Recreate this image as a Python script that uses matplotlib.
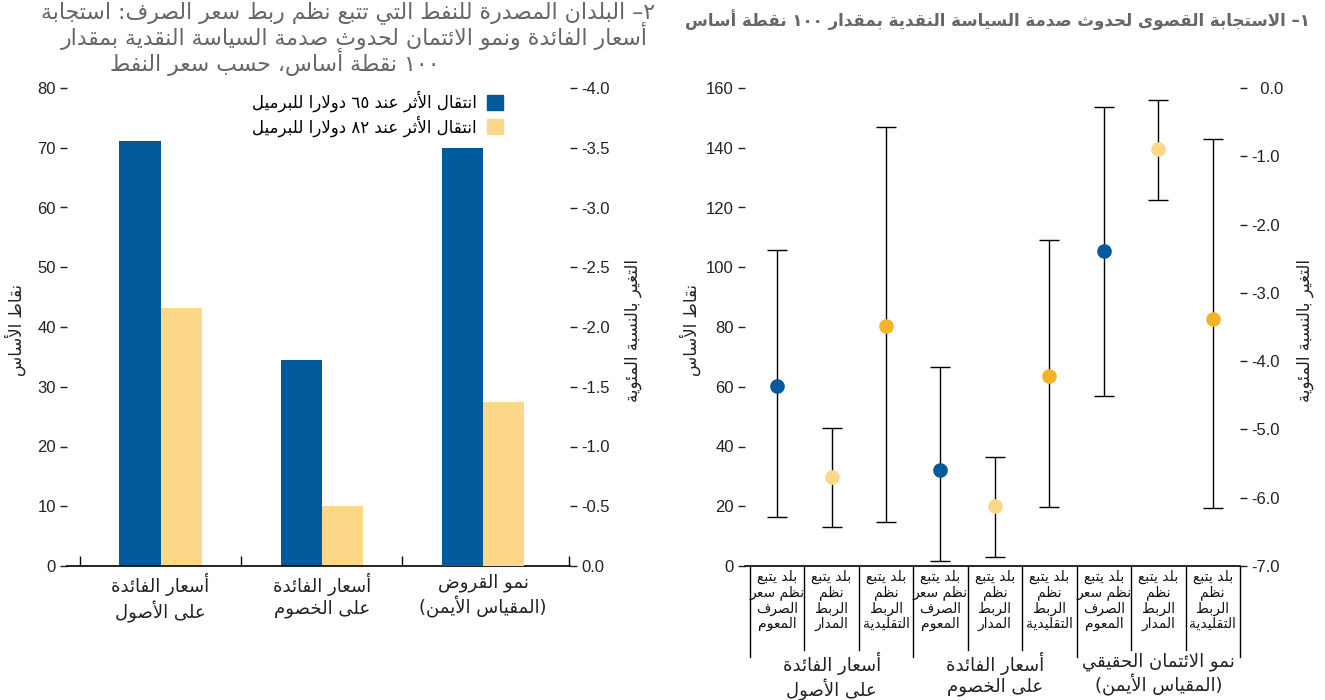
import re
import matplotlib
matplotlib.use('Agg')
import matplotlib.pyplot as plt
from matplotlib.patches import Patch
from matplotlib.ticker import FuncFormatter
from matplotlib.transforms import blended_transform_factory

plt.rcParams['font.family'] = ['Liberation Sans', 'DejaVu Sans']
plt.rcParams['axes.unicode_minus'] = False

# ---- data ----
left_title = ["٢– البلدان المصدرة للنفط التي تتبع نظم ربط سعر الصرف: استجابة",
              "أسعار الفائدة ونمو الائتمان لحدوث صدمة السياسة النقدية بمقدار",
              "١٠٠ نقطة أساس، حسب سعر النفط"]
right_title = "١– الاستجابة القصوى لحدوث صدمة السياسة النقدية بمقدار ١٠٠ نقطة أساس"
legend_labels = ["انتقال الأثر عند ٦٥ دولارا للبرميل", "انتقال الأثر عند ٨٢ دولارا للبرميل"]
bar_groups = ["أسعار الفائدة\nعلى الأصول", "أسعار الفائدة\nعلى الخصوم", "نمو القروض\n(المقياس الأيمن)"]
bps_label = "نقاط الأساس"
pct_label = "التغير بالنسبة المئوية"

# basis points (left scale) for the two rate groups
bars_65 = [71.1, 34.5]
bars_82 = [43.2, 10.0]
# percent (right scale) for loan growth
credit_bar_65 = -3.50
credit_bar_82 = -1.37

regimes = ["بلد يتبع\nنظم سعر\nالصرف\nالمعوم",
           "بلد يتبع\nنظم\nالربط\nالمدار",
           "بلد يتبع\nنظم\nالربط\nالتقليدية"]
resp_groups = ["أسعار الفائدة\nعلى الأصول", "أسعار الفائدة\nعلى الخصوم",
               "نمو الائتمان الحقيقي\n(المقياس الأيمن)"]
# interest rate responses, basis points
rate_mid = [60.3, 29.8, 80.3, 32.1, 20.1, 63.6]
rate_low = [16.4, 13.1, 14.7, 1.7, 3.0, 19.7]
rate_high = [105.8, 46.2, 147.0, 66.6, 36.5, 109.1]
# real credit growth responses, percent
credit_mid = [-2.39, -0.89, -3.38]
credit_low = [-4.51, -1.64, -6.15]
credit_high = [-0.28, -0.18, -0.75]

BLUE = '#005a9c'
LIGHT = '#fdd888'
GOLD = '#f5b32a'
regime_colors = [BLUE, LIGHT, GOLD]

# ---- minimal arabic shaping (presentation forms + visual order) ----
DUAL = {'ئ': 0xFE89, 'ب': 0xFE8F, 'ت': 0xFE95, 'ث': 0xFE99, 'ج': 0xFE9D, 'ح': 0xFEA1,
        'خ': 0xFEA5, 'س': 0xFEB1, 'ش': 0xFEB5, 'ص': 0xFEB9, 'ض': 0xFEBD, 'ط': 0xFEC1,
        'ظ': 0xFEC5, 'ع': 0xFEC9, 'غ': 0xFECD, 'ف': 0xFED1, 'ق': 0xFED5, 'ك': 0xFED9,
        'ل': 0xFEDD, 'م': 0xFEE1, 'ن': 0xFEE5, 'ه': 0xFEE9, 'ي': 0xFEF1}
RIGHT = {'آ': 0xFE81, 'أ': 0xFE83, 'ؤ': 0xFE85, 'إ': 0xFE87, 'ا': 0xFE8D, 'ة': 0xFE93,
         'د': 0xFEA9, 'ذ': 0xFEAB, 'ر': 0xFEAD, 'ز': 0xFEAF, 'و': 0xFEED, 'ى': 0xFEEF}
LAM_ALEF = {'آ': 0xFEF5, 'أ': 0xFEF7, 'إ': 0xFEF9, 'ا': 0xFEFB}
TATWEEL = 'ـ'
MIRROR = str.maketrans('()', ')(')


def joins_next(tok):
    return tok[0] == 'C' and (tok[1] in DUAL or tok[1] == TATWEEL)


def joins_prev(tok):
    return tok[0] == 'LA' or (tok[1] in DUAL or tok[1] in RIGHT or tok[1] == TATWEEL)


def shape(line):
    line = re.sub('[\u064B-\u0652]', '', line)
    toks = []
    i = 0
    while i < len(line):
        c = line[i]
        if c == 'ل' and i + 1 < len(line) and line[i + 1] in LAM_ALEF:
            toks.append(('LA', line[i + 1]))
            i += 2
        else:
            toks.append(('C', c))
            i += 1
    out = []
    for k, tok in enumerate(toks):
        prev = k > 0 and joins_next(toks[k - 1]) and joins_prev(tok)
        nxt = k < len(toks) - 1 and joins_next(tok) and joins_prev(toks[k + 1])
        if tok[0] == 'LA':
            out.append(chr(LAM_ALEF[tok[1]] + (1 if prev else 0)))
        elif tok[1] in DUAL:
            out.append(chr(DUAL[tok[1]] + {(0, 0): 0, (1, 0): 1, (0, 1): 2, (1, 1): 3}[(int(prev), int(nxt))]))
        elif tok[1] in RIGHT:
            out.append(chr(RIGHT[tok[1]] + (1 if prev else 0)))
        elif tok[1] == 'ء':
            out.append(chr(0xFE80))
        else:
            out.append(tok[1])
    return ''.join(out)


def ar(text):
    lines = []
    for line in text.split('\n'):
        runs = re.findall(r'[0-9\u0660-\u0669]+|[^0-9\u0660-\u0669]+', shape(line))
        lines.append(''.join(r if r[0].isdigit() else r[::-1].translate(MIRROR)
                             for r in reversed(runs)))
    return '\n'.join(lines)


AR = 'DejaVu Sans'
W, H = 1325, 700
fig = plt.figure(figsize=(W / 100, H / 100), dpi=100)


def fx(px):
    return px / W


def fy(py):
    return 1 - py / H


def style_axis(a):
    for s in ['top', 'left', 'right']:
        a.spines[s].set_visible(False)
    a.tick_params(axis='y', length=5, width=1, labelsize=12, pad=3, colors='#222222')


# ---- left panel: bars ----
ax = fig.add_axes([fx(67), fy(566), fx(570) - fx(67), fy(88) - fy(566)])
ax2 = ax.twinx()
style_axis(ax)
style_axis(ax2)
ax2.spines['bottom'].set_visible(False)

w = 0.255
ax.bar([0 - w / 2, 1 - w / 2], bars_65, width=w, color=BLUE)
ax.bar([0 + w / 2, 1 + w / 2], bars_82, width=w, color=LIGHT)
ax2.bar([2 - w / 2], [credit_bar_65], width=w, color=BLUE)
ax2.bar([2 + w / 2], [credit_bar_82], width=w, color=LIGHT)

ax.set_ylim(0, 80)
ax.set_yticks(range(0, 81, 10))
ax2.set_ylim(0, -4)
ax2.set_yticks([-0.5 * k for k in range(9)])
ax2.yaxis.set_major_formatter(FuncFormatter(lambda v, p: '0.0' if abs(v) < 1e-9 else f'{v:.1f}'))
ax.set_xlim(-0.58, 2.54)
ax.set_xticks([-0.5, 0.5, 1.5, 2.535])
ax.set_xticklabels([])
ax.tick_params(axis='x', direction='in', length=7, width=1)
ax.spines['bottom'].set_linewidth(1.2)

bt = blended_transform_factory(ax.transData, ax.transAxes)
for i, g in enumerate(bar_groups):
    ax.text(i, -0.015, ar(g), transform=bt, ha='center', va='top', fontsize=13,
            family=AR, linespacing=1.25, color='#222222')

handles = [Patch(color=BLUE), Patch(color=LIGHT)]
leg = ax.legend(handles, [ar(t) for t in legend_labels], markerfirst=False, frameon=False,
                loc='upper right', bbox_to_anchor=(fx(510), fy(84)), bbox_transform=fig.transFigure,
                prop={'family': AR, 'size': 12}, handlelength=1.0, handleheight=1.0,
                handletextpad=0.6, labelspacing=0.2, borderaxespad=0)

# ---- right panel: responses with ranges ----
ax3 = fig.add_axes([fx(745), fy(566), fx(1240) - fx(745), fy(88) - fy(566)])
ax4 = ax3.twinx()
style_axis(ax3)
style_axis(ax4)
ax4.spines['bottom'].set_visible(False)

ax3.set_ylim(0, 160)
ax3.set_yticks(range(0, 161, 20))
ax4.set_ylim(-7, 0)
ax4.set_yticks(range(-7, 1))
ax4.yaxis.set_major_formatter(FuncFormatter(lambda v, p: '  0.0' if abs(v) < 1e-9 else f'{v:.1f}'))
ax3.set_xlim(-0.59, 8.5)
ax3.set_xticks([])
ax3.spines['bottom'].set_linewidth(1.2)

xr = list(range(6))
ax3.errorbar(xr, rate_mid,
             yerr=[[m - l for m, l in zip(rate_mid, rate_low)], [h - m for m, h in zip(rate_mid, rate_high)]],
             fmt='none', ecolor='black', elinewidth=1, capsize=7.5, capthick=1, zorder=2)
for x, m in zip(xr, rate_mid):
    ax3.plot(x, m, 'o', ms=9.5, color=regime_colors[x % 3], zorder=3)

xc = [6, 7, 8]
ax4.errorbar(xc, credit_mid,
             yerr=[[m - l for m, l in zip(credit_mid, credit_low)], [h - m for m, h in zip(credit_mid, credit_high)]],
             fmt='none', ecolor='black', elinewidth=1, capsize=7.5, capthick=1, zorder=2)
for x, m in zip(xc, credit_mid):
    ax4.plot(x, m, 'o', ms=9.5, color=regime_colors[x % 3], zorder=3)

# table-style category labels under the axis
bt3 = blended_transform_factory(ax3.transData, ax3.transAxes)
for k in range(10):
    bottom = -0.19 if k % 3 == 0 else -0.175
    ax3.plot([k - 0.5, k - 0.5], [0, bottom], color='black', lw=1, transform=bt3, clip_on=False)
for i in range(9):
    ax3.text(i, -0.008, ar(regimes[i % 3]), transform=bt3, ha='center', va='top', fontsize=10,
             family=AR, linespacing=1.12, color='#111111')
for g, label in enumerate(resp_groups):
    ax3.text(3 * g + 1, -0.18, ar(label), transform=bt3, ha='center', va='top', fontsize=13,
             family=AR, linespacing=1.2, color='#222222')

# ---- axis titles and panel titles ----
for x, label in [(15, bps_label), (690, bps_label)]:
    fig.text(fx(x), fy(330), ar(label), rotation=90, ha='center', va='center', fontsize=12,
             family=AR, color='#222222')
for x, label in [(633, pct_label), (1305, pct_label)]:
    fig.text(fx(x), fy(330), ar(label), rotation=90, ha='center', va='center', fontsize=12,
             family=AR, color='#222222')

for (xr_, yc), line in zip([(655, 13), (648, 36), (440, 62)], left_title):
    fig.text(fx(xr_), fy(yc), ar(line), ha='right', va='center', fontsize=15.8, family=AR,
             color='#666666', linespacing=1.0)
fig.text(fx(1310), fy(20), ar(right_title), ha='right', va='center', fontsize=12, family=AR,
         weight='bold', color='#666666')

fig.savefig('out.png', dpi=100)
